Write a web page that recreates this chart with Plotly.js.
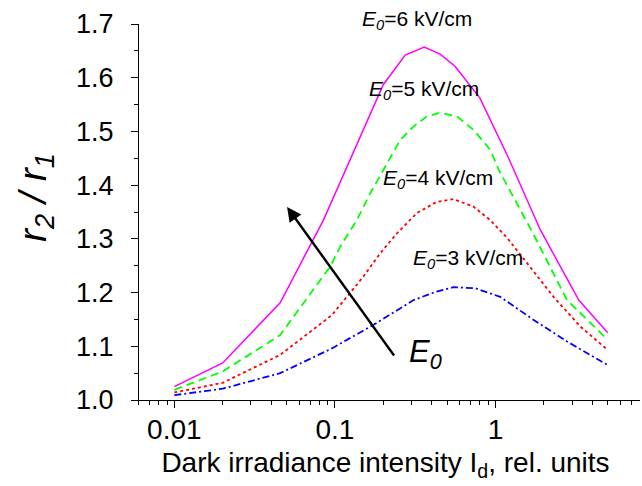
<!DOCTYPE html>
<html>
<head>
<meta charset="utf-8">
<script src="https://cdn.plot.ly/plotly-3.0.1.min.js"></script>
<style>html,body{margin:0;padding:0;background:#fff;}#chart{width:642px;height:486px;}</style>
</head>
<body>
<div id="chart"></div>
<script>
// Data
const xE6 = [0.01, 0.02, 0.0456, 0.0848, 0.2, 0.274, 0.36, 0.452, 0.561, 0.8, 1.2, 1.9, 3.3, 5];
const yE6 = [1.025, 1.069, 1.181, 1.335, 1.587, 1.642, 1.657, 1.644, 1.621, 1.562, 1.452, 1.317, 1.186, 1.125];

const xE5 = [0.01, 0.02, 0.0456, 0.0933, 0.1077, 0.137, 0.166, 0.211, 0.255, 0.308, 0.374, 0.452, 0.575, 0.729, 0.927, 1.05, 1.7, 2.79, 5];
const yE5 = [1.019, 1.053, 1.121, 1.248, 1.285, 1.335, 1.385, 1.441, 1.484, 1.509, 1.528, 1.535, 1.528, 1.503, 1.466, 1.428, 1.312, 1.186, 1.112];

const xE4 = [0.01, 0.02, 0.0456, 0.0957, 0.1186, 0.1505, 0.1913, 0.243, 0.324, 0.431, 0.547, 0.729, 0.927, 1.05, 1.18, 1.64, 2.3, 3.37, 5];
const yE4 = [1.014, 1.032, 1.084, 1.158, 1.192, 1.230, 1.273, 1.310, 1.348, 1.369, 1.374, 1.360, 1.335, 1.318, 1.302, 1.248, 1.192, 1.137, 1.093];

const xE3 = [0.01, 0.02, 0.0456, 0.0957, 0.174, 0.309, 0.42, 0.547, 0.75, 1.07, 1.73, 2.79, 5];
const yE3 = [1.009, 1.021, 1.050, 1.096, 1.140, 1.186, 1.201, 1.210, 1.208, 1.192, 1.149, 1.109, 1.065];

const xTickVals = [0.01, 0.1, 1];
const xTickText = ['0.01', '0.1', '1'];
const curveLabels = ['<i>E<sub>0</sub></i>=6 kV/cm', '<i>E<sub>0</sub></i>=5 kV/cm', '<i>E<sub>0</sub></i>=4 kV/cm', '<i>E<sub>0</sub></i>=3 kV/cm'];

const FONT = 'Liberation Sans, Arial, Helvetica, sans-serif';

// minor tick positions on log axis (2..9 within each decade)
const minorX = [];
for (let d = -3; d <= 0; d++) {
  for (let k = 2; k <= 9; k++) minorX.push(k * Math.pow(10, d));
}

const traces = [
  {x: xE6, y: yE6, mode: 'lines', line: {color: '#ff00ff', width: 1.5}, name: curveLabels[0]},
  {x: xE5, y: yE5, mode: 'lines', line: {color: '#00ff00', width: 1.8, dash: '8px,5px'}, name: curveLabels[1]},
  {x: xE4, y: yE4, mode: 'lines', line: {color: '#ff0000', width: 1.8, dash: '3px,3px'}, name: curveLabels[2]},
  {x: xE3, y: yE3, mode: 'lines', line: {color: '#0000ff', width: 1.8, dash: '7px,3px,2px,3px'}, name: curveLabels[3]}
];

const L = 131, R = 2, T = 24, B = 86;
const plotW = 642 - L - R;
const plotH = 486 - T - B;

const layout = {
  width: 642, height: 486,
  margin: {l: L, r: R, t: T, b: B},
  paper_bgcolor: '#fff', plot_bgcolor: '#fff',
  showlegend: false,
  font: {family: FONT, color: '#000'},
  xaxis: {
    type: 'log',
    range: [-2.27, 0.90],
    tickmode: 'array', tickvals: xTickVals, ticktext: xTickText,
    ticks: 'outside', ticklen: 7, tickwidth: 1, tickcolor: '#000',
    ticklabelstandoff: -3,
    minor: {tickmode: 'array', tickvals: minorX, ticks: 'outside', ticklen: 4, tickwidth: 1, tickcolor: '#000', showgrid: false},
    showline: true, linecolor: '#000', linewidth: 1,
    showgrid: false, zeroline: false,
    tickfont: {family: FONT, size: 28, color: '#000'},
    title: {text: 'Dark irradiance intensity I<sub>d</sub>, rel. units', font: {family: FONT, size: 28, color: '#000'}, standoff: 8}
  },
  yaxis: {
    range: [1.0, 1.7],
    anchor: 'free', position: 7 / plotW,
    dtick: 0.1, tick0: 1.0, tickformat: '.1f',
    ticks: 'outside', ticklen: 7, tickwidth: 1, tickcolor: '#000',
    ticklabelstandoff: 12,
    minor: {dtick: 0.05, ticks: 'outside', ticklen: 4, tickwidth: 1, tickcolor: '#000', showgrid: false},
    showline: true, linecolor: '#000', linewidth: 1,
    showgrid: false, zeroline: false,
    tickfont: {family: FONT, size: 27, color: '#000'}
  },
  annotations: [
    {xref: 'paper', yref: 'paper', x: (35 - L) / plotW, y: (400 - 198) / plotH, text: '<i>r<sub>2</sub> / r<sub>1</sub></i>', textangle: -90, showarrow: false, xanchor: 'center', yanchor: 'middle', font: {family: FONT, size: 39, color: '#000'}},
    {x: -0.488, yref: 'paper', y: (400 - 20.5) / plotH, text: curveLabels[0], showarrow: false, xanchor: 'center', yanchor: 'middle', font: {family: FONT, size: 21, color: '#000'}},
    {x: -0.444, y: 1.578, text: curveLabels[1], showarrow: false, xanchor: 'center', yanchor: 'middle', font: {family: FONT, size: 21, color: '#000'}},
    {x: -0.357, y: 1.412, text: curveLabels[2], showarrow: false, xanchor: 'center', yanchor: 'middle', font: {family: FONT, size: 21, color: '#000'}},
    {x: -0.17, y: 1.262, text: curveLabels[3], showarrow: false, xanchor: 'center', yanchor: 'middle', font: {family: FONT, size: 21, color: '#000'}},
    {x: -0.434, y: 1.086, text: '<i>E<sub>0</sub></i>', showarrow: false, xanchor: 'center', yanchor: 'middle', font: {family: FONT, size: 31, color: '#000'}},
    {x: -1.298, y: 1.3594, ax: -0.625, ay: 1.080, axref: 'x', ayref: 'y', text: '', showarrow: true, arrowhead: 2, arrowsize: 1.2, arrowwidth: 2.4, arrowcolor: '#000', standoff: 0, startstandoff: 0}
  ]
};

Plotly.newPlot('chart', traces, layout, {staticPlot: true, displayModeBar: false});
</script>
</body>
</html>
